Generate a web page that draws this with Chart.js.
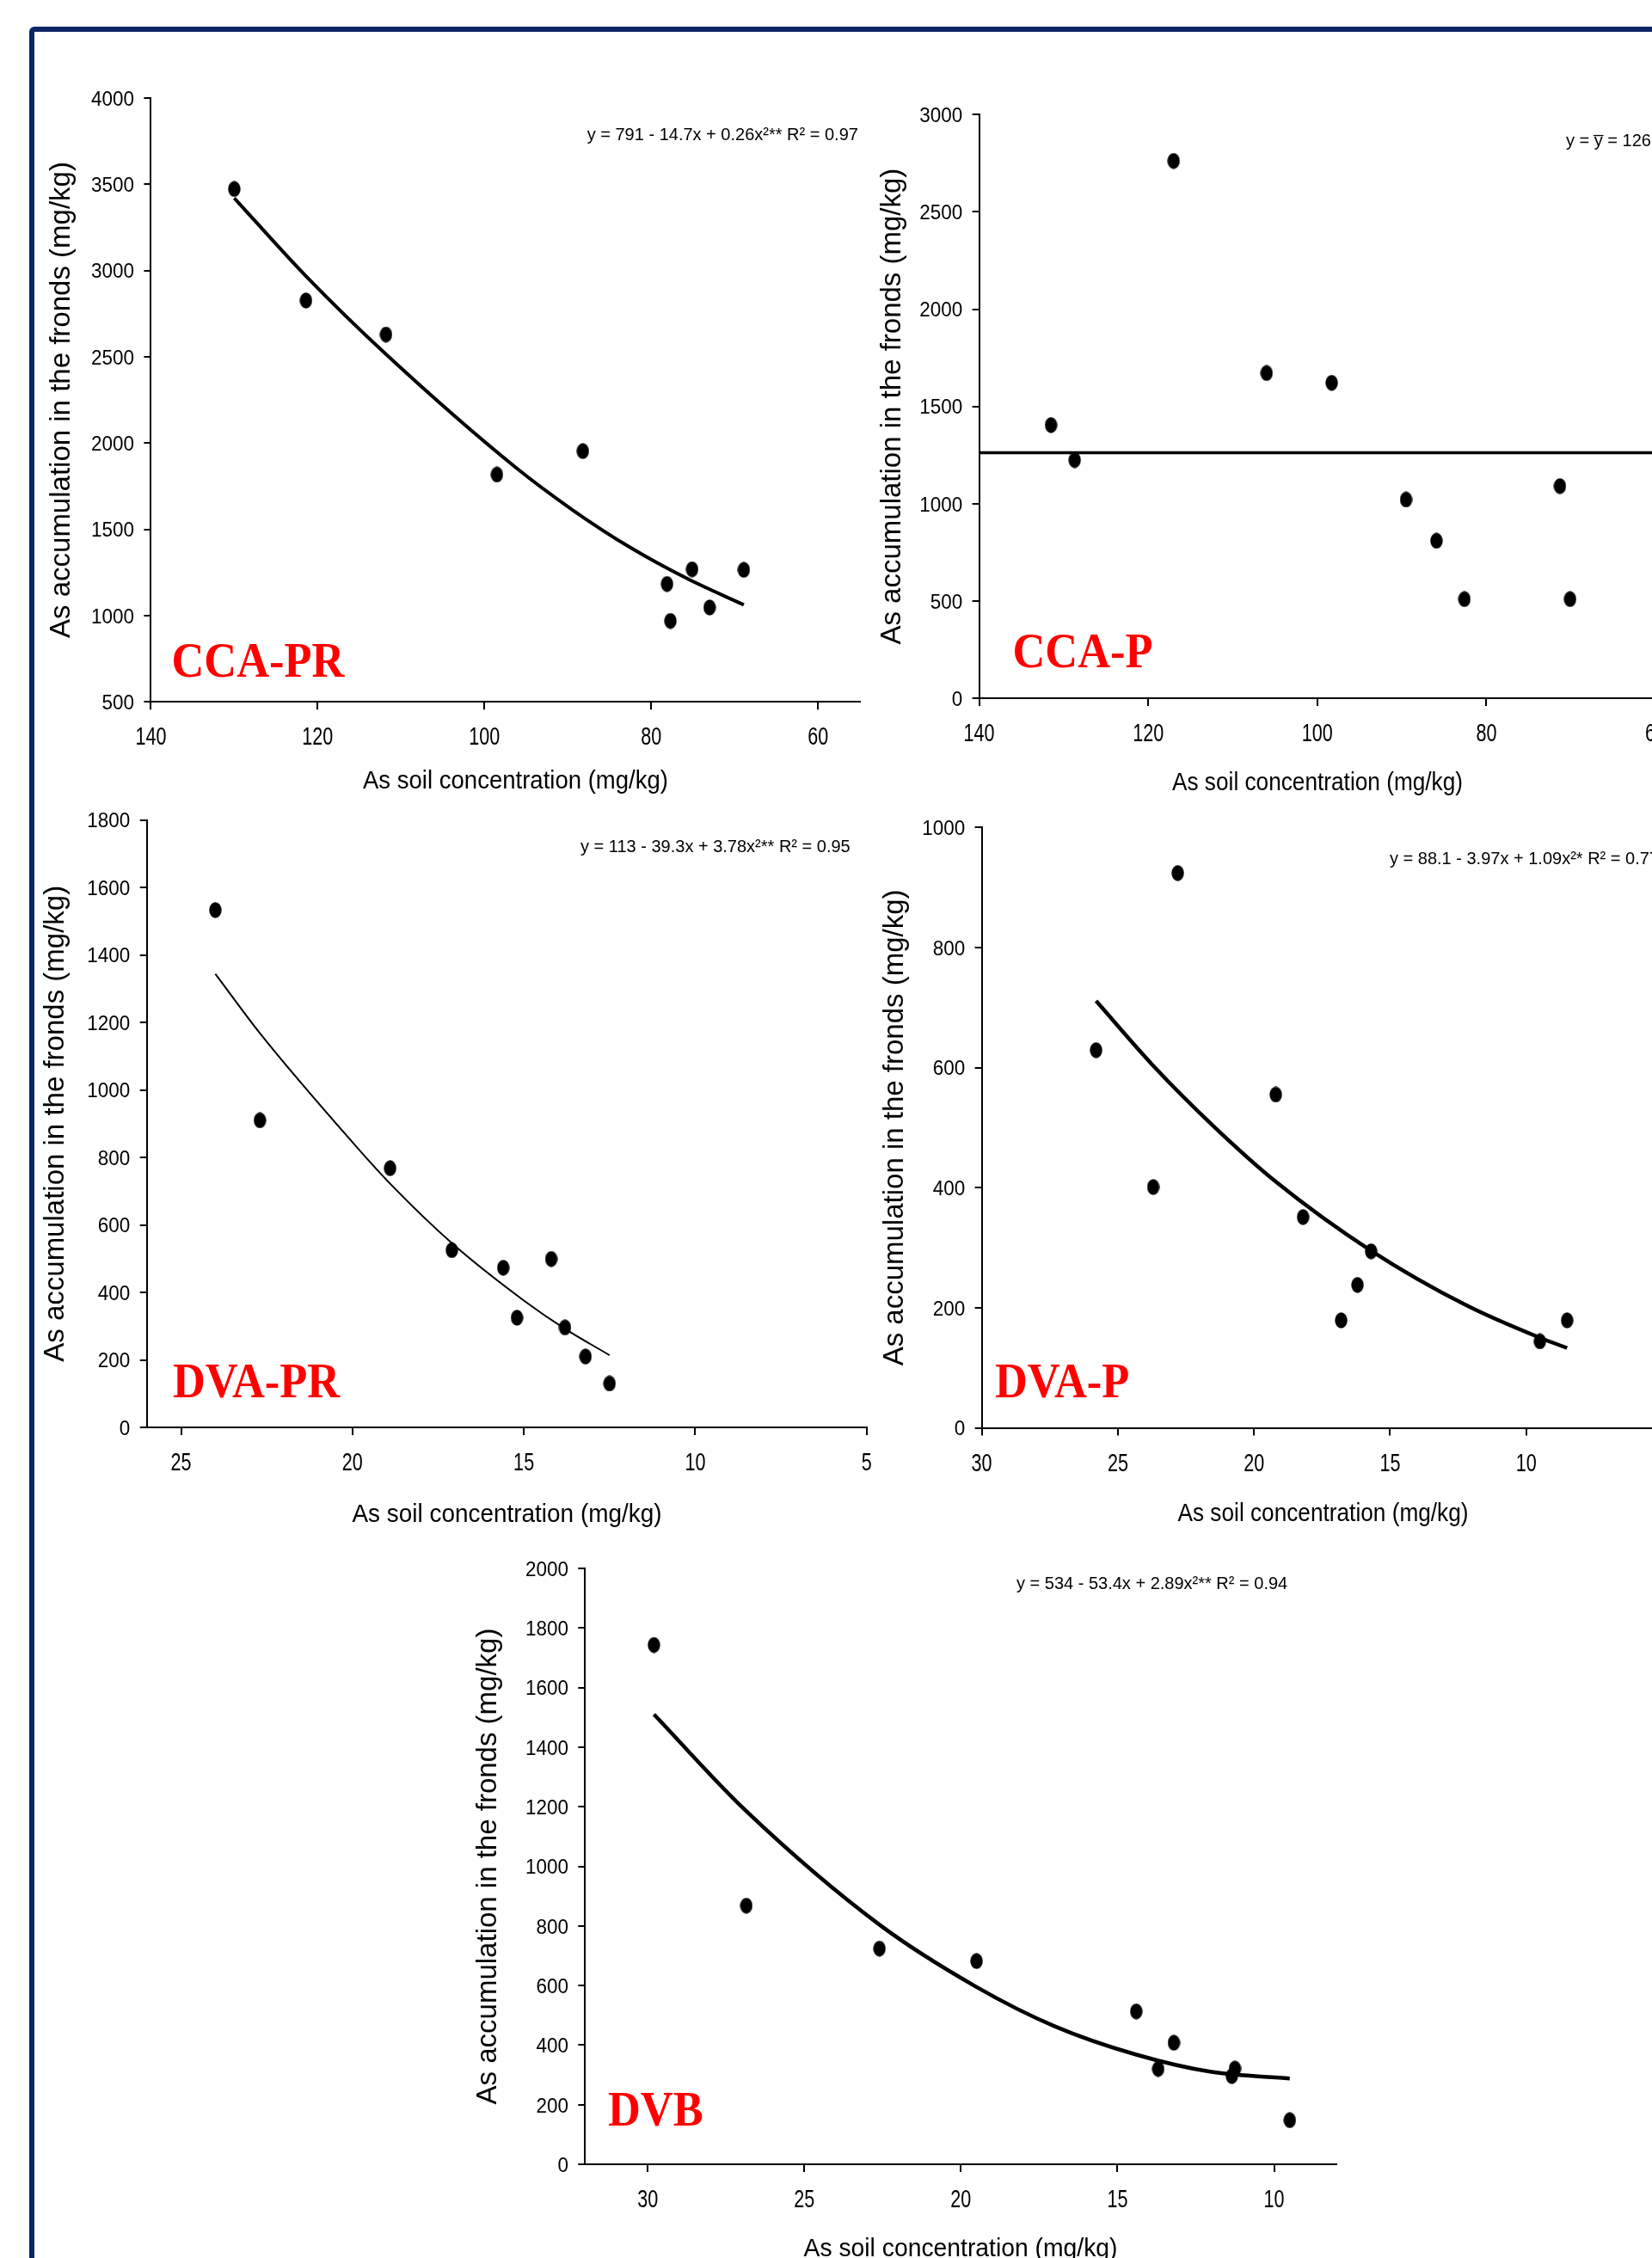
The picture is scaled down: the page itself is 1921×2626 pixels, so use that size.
<!DOCTYPE html>
<html><head><meta charset="utf-8">
<script src="https://cdn.jsdelivr.net/npm/chart.js@4.4.1/dist/chart.umd.min.js"></script>
<style>
html,body{margin:0;padding:0;width:1921px;height:2626px;overflow:hidden;background:#fff;}
#frame{position:absolute;left:34px;top:31px;width:3000px;height:3000px;border:6px solid #0d2466;border-radius:6px;box-sizing:border-box;}
canvas{position:absolute;}
</style></head><body>
<div id="frame"></div>
<canvas id="c1"></canvas><canvas id="c2"></canvas><canvas id="c3"></canvas><canvas id="c4"></canvas><canvas id="c5"></canvas>
<script>
// ---------------- data ----------------
// CCA-PR
const ccaPrSoil  = [130.0,121.4,111.8,98.5,88.2,78.1,77.7,75.1,73.0,68.9];
const ccaPrFrond = [3472,2826,2629,1817,1953,1183,969,1268,1047,1265];
const ccaPrFitSoil  = [130.0,121.4,111.8,96.3,89.4,82.5,75.6,68.9];
const ccaPrFitFrond = [3420,2967,2514,1860,1611,1394,1212,1062];
const ccaPrXTicks = [140,120,100,80,60];
const ccaPrYTicks = [500,1000,1500,2000,2500,3000,3500,4000];
// CCA-P
const ccaPSoil  = [131.5,128.7,117.0,106.0,98.3,89.5,85.9,82.6,71.3,70.1];
const ccaPFrond = [1404,1224,2762,1671,1621,1021,809,509,1090,509];
const ccaPFitSoil  = [140,60];
const ccaPFitFrond = [1262,1262];
const ccaPXTicks = [140,120,100,80,60];
const ccaPYTicks = [0,500,1000,1500,2000,2500,3000];
// DVA-PR
const dvaPrSoil  = [24.0,22.7,18.9,17.1,15.6,15.2,14.2,13.8,13.2,12.5];
const dvaPrFrond = [1533,910,768,525,473,325,499,296,210,130];
const dvaPrFitSoil  = [24.0,22.7,20.0,18.9,17.1,15.0,13.8,12.5];
const dvaPrFitFrond = [1344,1168,845,722,546,376,292,214];
const dvaPrXTicks = [25,20,15,10,5];
const dvaPrYTicks = [0,200,400,600,800,1000,1200,1400,1600,1800];
// DVA-P
const dvaPSoil  = [25.8,23.7,22.8,19.2,18.2,16.8,16.2,15.7,9.5,8.5];
const dvaPFrond = [629,401,924,555,351,179,238,294,144,179];
const dvaPFitSoil  = [25.8,23.7,21.5,19.2,15.7,12.2,9.5,8.5];
const dvaPFitFrond = [711,603,503,410,295,204,150,133];
const dvaPXTicks = [30,25,20,15,10,5];
const dvaPYTicks = [0,200,400,600,800,1000];
// DVB
const dvbSoil  = [29.8,26.85,22.6,19.5,14.4,13.7,13.2,11.35,11.25,9.5];
const dvbFrond = [1743,868,724,682,513,320,408,296,321,148];
const dvbFitSoil  = [29.8,26.9,22.6,19.5,17.0,14.4,12.0,9.5];
const dvbFitFrond = [1510,1190,804,595,463,368,310,288];
const dvbXTicks = [30,25,20,15,10];
const dvbYTicks = [0,200,400,600,800,1000,1200,1400,1600,1800,2000];

const xTitle = 'As soil concentration (mg/kg)';
const yTitle = 'As accumulation in the fronds (mg/kg)';

// ---------------- layout ----------------
const WIDE = "'Liberation Sans',Arial,sans-serif";

const panels = [
  {id:'c1', l:175.4, r:999.7, t:113.9, b:816.2, xMin:55, xMax:140, yMin:500, yMax:4000,
   soil:ccaPrSoil, frond:ccaPrFrond, fitSoil:ccaPrFitSoil, fitFrond:ccaPrFitFrond, xTicks:ccaPrXTicks, yTicks:ccaPrYTicks,
   lw:4, xd:89.6, xc:599.5, xw:355, yd:103, eq:'y = 791 - 14.7x + 0.26x²** R² = 0.97', eqX:682.7, eqY:163.3, label:'CCA-PR', labX:199.5, labY:786.5},
  {id:'c2', l:1138.6, r:1925, t:133.3, b:811.9, xMin:60, xMax:140, yMin:0, yMax:3000,
   soil:ccaPSoil, frond:ccaPFrond, fitSoil:ccaPFitSoil, fitFrond:ccaPFitFrond, xTicks:ccaPXTicks, yTicks:ccaPYTicks,
   lw:3.5, xd:96, xc:1532, xw:338, yd:100.6, eq:'y = y\u0305 = 1262', eqX:1821, eqY:170, label:'CCA-P', labX:1177.4, labY:775.6},
  {id:'c3', l:170.7, r:1007.7, t:953.6, b:1660, xMin:5, xMax:26, yMin:0, yMax:1800,
   soil:dvaPrSoil, frond:dvaPrFrond, fitSoil:dvaPrFitSoil, fitFrond:dvaPrFitFrond, xTicks:dvaPrXTicks, yTicks:dvaPrYTicks,
   lw:2, xd:99, xc:589.5, xw:360, yd:106, eq:'y = 113 - 39.3x + 3.78x²** R² = 0.95', eqX:675, eqY:991, label:'DVA-PR', labX:201, labY:1625},
  {id:'c4', l:1141.6, r:1933.1, t:962.3, b:1660.5, xMin:5, xMax:30, yMin:0, yMax:1000,
   soil:dvaPSoil, frond:dvaPFrond, fitSoil:dvaPFitSoil, fitFrond:dvaPFitFrond, xTicks:dvaPXTicks, yTicks:dvaPYTicks,
   lw:4.5, xd:98, xc:1538.5, xw:338, yd:100.6, eq:'y = 88.1 - 3.97x + 1.09x²* R² = 0.77', eqX:1616, eqY:1005, label:'DVA-P', labX:1157, labY:1625},
  {id:'c5', l:680.3, r:1554.4, t:1824, b:2517, xMin:8, xMax:32, yMin:0, yMax:2000,
   soil:dvbSoil, frond:dvbFrond, fitSoil:dvbFitSoil, fitFrond:dvbFitFrond, xTicks:dvbXTicks, yTicks:dvbYTicks,
   lw:4.5, xd:96, xc:1117, xw:365, yd:112, eq:'y = 534 - 53.4x + 2.89x²** R² = 0.94', eqX:1182, eqY:1848, label:'DVB', labX:707, labY:2471.5}
];

function dot(w,h){
  const c=document.createElement('canvas'); c.width=w; c.height=h;
  const g=c.getContext('2d'); g.fillStyle='#000'; g.beginPath();
  g.ellipse(w/2,h/2,w/2-0.3,h/2-0.3,0,0,Math.PI*2); g.fill(); return c;
}
const dotImg = dot(15,19);

function drawScaled(ctx, text, x, y, s, align){
  ctx.save(); ctx.translate(x,y); ctx.scale(s,1); ctx.textAlign=align; ctx.textBaseline='alphabetic';
  ctx.fillText(text,0,0); ctx.restore();
}

function makePanel(p){
  const cl = Math.round(p.l - 150), ct = Math.round(p.t - 20);
  const W = Math.round(p.r + 20 - cl), H = Math.round(p.b + 130 - ct);
  const mL = p.l - cl, mT = p.t - ct, mR = W - (p.r - cl), mB = H - (p.b - ct);
  const cv = document.getElementById(p.id);
  cv.width = W; cv.height = H; cv.style.left = cl+'px'; cv.style.top = ct+'px';
  const yTitleSize = 33;
  const ptY = mL - p.yd - yTitleSize*1.2/2;
  const annot = {
    id:'annot',
    afterDraw(chart){
      const ctx = chart.ctx;
      const xs = chart.scales.x, ys = chart.scales.y;
      ctx.save();
      ctx.fillStyle='#000';
      // y tick labels
      ctx.font = "24.7px " + WIDE;
      ys.ticks.forEach(t=>{
        const py = ys.getPixelForValue(t.value);
        drawScaled(ctx, String(t.value), ys.right - 8 - 11.4, py + 8.85, 0.91, 'right');
      });
      // x tick labels
      ctx.font = "28.6px " + WIDE;
      xs.ticks.forEach(t=>{
        const px = xs.getPixelForValue(t.value);
        drawScaled(ctx, String(t.value), px, xs.top + 50, 0.755, 'center');
      });
      // x axis title
      ctx.font = "30.3px " + WIDE;
      const nat = ctx.measureText(xTitle).width;
      drawScaled(ctx, xTitle, p.xc - cl, xs.top + p.xd + 10.85, p.xw / nat, 'center');
      // equation
      ctx.font = "20px " + WIDE; ctx.textAlign='left'; ctx.textBaseline='alphabetic';
      ctx.fillText(p.eq, p.eqX - cl, p.eqY - ct);
      // panel label
      ctx.fillStyle='#ff0000';
      ctx.font = "bold 57px 'Liberation Serif','Times New Roman',serif";
      drawScaled(ctx, p.label, p.labX - cl, p.labY - ct, 0.92, 'left');
      ctx.restore();
    }
  };
  new Chart(cv, {
    type:'scatter',
    data:{datasets:[
      {data:p.fitSoil.map((x,i)=>({x:x,y:p.fitFrond[i]})), showLine:true, pointRadius:0, borderColor:'#000',
       borderWidth:p.lw, cubicInterpolationMode:'monotone', fill:false, borderCapStyle:'butt'},
      {data:p.soil.map((x,i)=>({x:x,y:p.frond[i]})), showLine:false, pointStyle:dotImg, pointRadius:8,
       backgroundColor:'#000', borderColor:'#000'}
    ]},
    options:{
      responsive:false, animation:false, devicePixelRatio:1, events:[],
      layout:{padding:{left:0, top:mT, right:mR, bottom:0}},
      plugins:{legend:{display:false}, tooltip:{enabled:false}},
      scales:{
        x:{type:'linear', position:'bottom', reverse:true, min:p.xMin, max:p.xMax,
          afterBuildTicks:s=>{ s.ticks = p.xTicks.map(v=>({value:v})); },
          afterFit:s=>{ s.height = mB; s.paddingLeft=0; s.paddingRight=0; s.paddingTop=0; s.paddingBottom=0; },
          grid:{drawOnChartArea:false, drawTicks:true, tickLength:9, color:'#000', lineWidth:2},
          border:{display:true, color:'#000', width:2},
          ticks:{display:false, autoSkip:false},
          title:{display:false, text:xTitle}
        },
        y:{type:'linear', position:'left', min:p.yMin, max:p.yMax,
          afterBuildTicks:s=>{ s.ticks = p.yTicks.map(v=>({value:v})); },
          afterFit:s=>{ s.width = mL; s.paddingLeft=0; s.paddingRight=0; s.paddingTop=0; s.paddingBottom=0; },
          grid:{drawOnChartArea:false, drawTicks:true, tickLength:8, color:'#000', lineWidth:2},
          border:{display:true, color:'#000', width:2},
          ticks:{display:false, autoSkip:false},
          title:{display:true, text:yTitle, color:'#000', font:{family:WIDE, size:yTitleSize}, padding:{top:ptY, bottom:0}}
        }
      }
    },
    plugins:[annot]
  });
}
panels.forEach(makePanel);
</script>
</body></html>
